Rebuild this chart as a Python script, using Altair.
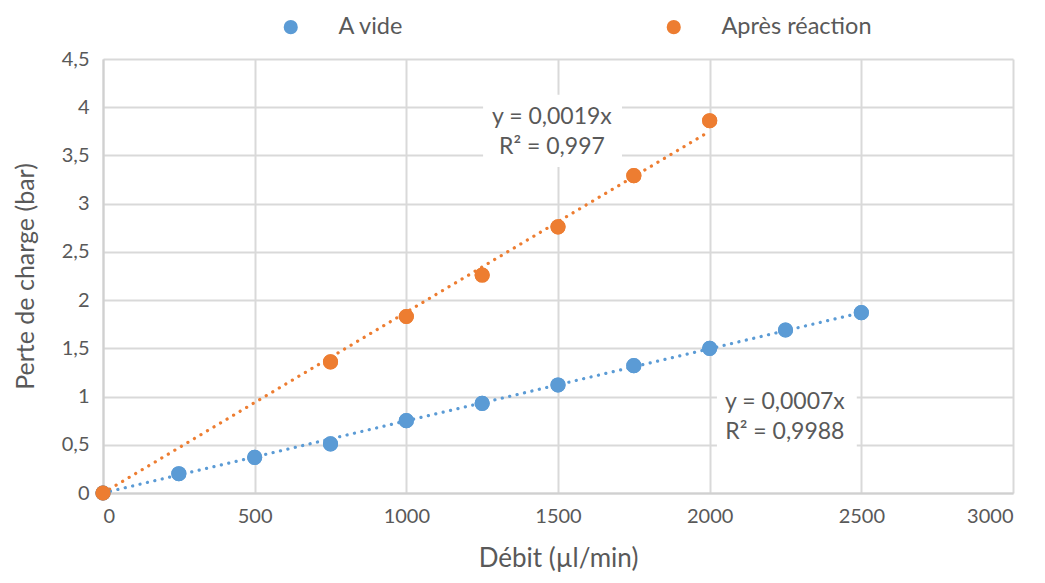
import altair as alt
import pandas as pd

# --- data ---
vide_x = [0, 250, 500, 750, 1000, 1250, 1500, 1750, 2000, 2250, 2500]
vide_y = [0, 0.20, 0.37, 0.51, 0.75, 0.93, 1.12, 1.32, 1.50, 1.69, 1.87]
apres_x = [0, 750, 1000, 1250, 1500, 1750, 2000]
apres_y = [0, 1.36, 1.83, 2.26, 2.76, 3.29, 3.86]

series_names = ["A vide", "Après réaction"]
series_colors = ["#5B9BD5", "#ED7D31"]

# linear trend lines through origin (end points)
trend_series = ["A vide", "A vide", "Après réaction", "Après réaction"]
trend_x = [0, 2500, 0, 2000]
trend_y = [0, 1.87, 0, 3.75]

# equation labels
eq_series = ["A vide", "Après réaction"]
eq_line1 = ["y = 0,0007x", "y = 0,0019x"]
eq_line2 = ["R² = 0,9988", "R² = 0,997"]
eq_x = [2248, 1480]
eq_y1 = [0.94, 3.90]
eq_y2 = [0.63, 3.59]
box_x0 = [2024, 1253]
box_x1 = [2485, 1711]
box_y0 = [0.45, 3.38]
box_y1 = [1.07, 4.13]

FONT = "Lato"
TXT = "#595959"

pts = pd.DataFrame(
    {"x": vide_x + apres_x,
     "y": vide_y + apres_y,
     "s": ["A vide"] * len(vide_x) + ["Après réaction"] * len(apres_x)}
)
trend = pd.DataFrame({"s": trend_series, "x": trend_x, "y": trend_y})
eqs = pd.DataFrame({"s": eq_series, "l1": eq_line1, "l2": eq_line2, "x": eq_x,
                    "y1": eq_y1, "y2": eq_y2, "bx0": box_x0, "bx1": box_x1,
                    "by0": box_y0, "by1": box_y1})

xscale = alt.Scale(domain=[0, 3000], nice=False)
yscale = alt.Scale(domain=[0, 4.5], nice=False)
cscale = alt.Scale(domain=series_names, range=series_colors)

xaxis = alt.Axis(
    values=[0, 500, 1000, 1500, 2000, 2500, 3000], title="Débit (µl/min)",
    format="d",
    labelFont=FONT, labelFontSize=20, labelColor=TXT, labelPadding=13,
    titleFont=FONT, titleFontSize=26, titleColor=TXT, titleFontWeight="normal",
    titleY=65, titleBaseline="middle",
    ticks=False, gridColor="#d9d9d9", gridWidth=2,
    domainColor="#d0d0d0", domainWidth=2,
)
yaxis = alt.Axis(
    values=[0, 0.5, 1, 1.5, 2, 2.5, 3, 3.5, 4, 4.5], title="Perte de charge (bar)",
    labelExpr="replace(toString(datum.value), '.', ',')",
    labelFont=FONT, labelFontSize=20, labelColor=TXT, labelPadding=14,
    titleFont=FONT, titleFontSize=25, titleColor=TXT, titleFontWeight="normal",
    titleX=-78, titleBaseline="middle",
    ticks=False, gridColor="#d9d9d9", gridWidth=2,
    domainColor="#d0d0d0", domainWidth=2,
)

points = alt.Chart(pts).mark_circle(size=230, opacity=1).encode(
    x=alt.X("x:Q", scale=xscale, axis=xaxis),
    y=alt.Y("y:Q", scale=yscale, axis=yaxis),
    color=alt.Color(
        "s:N",
        scale=cscale,
        legend=alt.Legend(
            title=" ", titleOrient="left", titleFontSize=1, titlePadding=176,
            orient="top", direction="horizontal", offset=20,
            symbolType="circle", symbolSize=200, symbolStrokeWidth=0,
            labelFont=FONT, labelFontSize=23.5, labelColor=TXT,
            labelOffset=36, columnPadding=258,
        ),
    ),
)

boxes = alt.Chart(eqs).mark_rect(fill="white").encode(
    x=alt.X("bx0:Q", scale=xscale), x2="bx1:Q",
    y=alt.Y("by0:Q", scale=yscale), y2="by1:Q",
)

lines = alt.Chart(trend).mark_line(
    strokeWidth=3.2, strokeDash=[0.1, 7.5], strokeCap="round"
).encode(
    x=alt.X("x:Q", scale=xscale),
    y=alt.Y("y:Q", scale=yscale),
    stroke=alt.Stroke("s:N", scale=cscale, legend=None),
    detail="s:N",
)

t1 = alt.Chart(eqs).mark_text(font=FONT, fontSize=23, color=TXT, baseline="middle").encode(
    x=alt.X("x:Q", scale=xscale), y=alt.Y("y1:Q", scale=yscale), text="l1:N"
)
t2 = alt.Chart(eqs).mark_text(font=FONT, fontSize=23, color=TXT, baseline="middle").encode(
    x=alt.X("x:Q", scale=xscale), y=alt.Y("y2:Q", scale=yscale), text="l2:N"
)

chart = alt.layer(points, boxes, lines, points, t1, t2).properties(
    width=910, height=434,
    autosize=alt.AutoSizeParams(type="none"),
    padding={"left": 95, "top": 51, "right": 20, "bottom": 82},
).configure(background="white").configure_view(stroke=None)

chart.save("out.html", embed_options={"renderer": "svg", "actions": False})
